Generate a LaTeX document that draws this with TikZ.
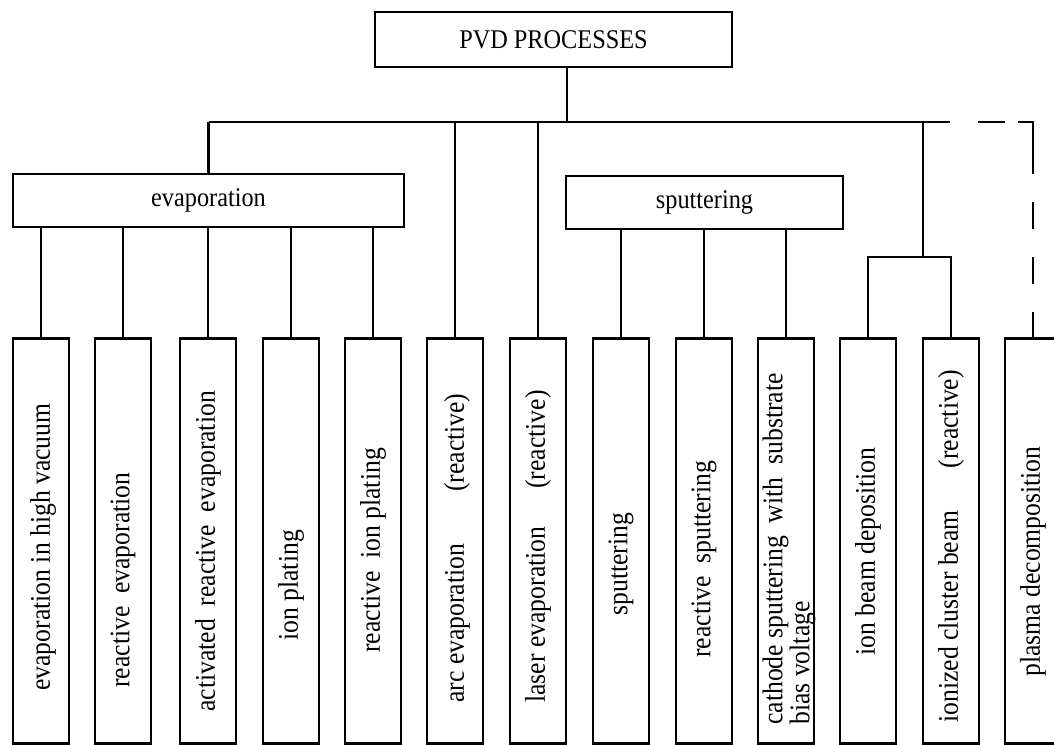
\documentclass[tikz,border=0pt]{standalone}
\usepackage{fontspec}
\setmainfont{Liberation Serif}[FakeStretch=0.9]
\usetikzlibrary{calc}
\begin{document}
\begin{tikzpicture}[x=1pt,y=-1pt,
  box/.style={draw, rectangle, line width=2.8pt, inner sep=0pt, font=\fontsize{27}{30}\selectfont},
  leaf/.style={box, minimum width=56pt, minimum height=405pt, anchor=north},
  conn/.style={line width=2.4pt},
  lbl/.style={rotate=90, anchor=west, inner sep=0pt, font=\fontsize{28.5}{30}\selectfont},
  dsh/.style={conn, dash pattern=on 0pt off 28pt on 27pt off 13pt on 67pt off 28pt on 27pt off 28pt on 27pt off 28pt on 30pt}]
\useasboundingbox (0,0) rectangle (1054,744);
\clip (0,0) rectangle (1054,744);
% top
\node[box, minimum width=357pt, minimum height=55pt] (pvd) at (553.5,39.5) {PVD PROCESSES};
\node[box, minimum width=391pt, minimum height=53pt] (evap) at (208.5,200.5) {evaporation};
\node[box, minimum width=277pt, minimum height=53pt] (sput) at (704.5,202.5) {sputtering};
% leaves
\foreach \i/\x in {1/41,2/123,3/208,4/291,5/373,6/455,7/538,8/621,9/704,10/786,11/868,12/951,13/1033}
  \node[leaf] (l\i) at (\x,337) {};
% labels
\node[lbl] (t1) at ($(l1.south)+(2,-54)$) {evaporation in high vacuum};
\node[lbl] (t2) at ($(l2.south)+(0,-57)$) {reactive\ \ evaporation};
\node[lbl] (t3) at ($(l3.south)+(0,-33)$) {activated\ \ reactive\ \ evaporation};
\node[lbl] (t4) at ($(l4.south)+(0,-104)$) {ion plating};
\node[lbl] (t5) at ($(l5.south)+(0,-92)$) {reactive\ \ ion plating};
\node[lbl] (t6) at ($(l6.south)+(2,-42)$) {arc evaporation\hspace{52pt}(reactive)};
\node[lbl] (t7) at ($(l7.south)+(0,-42)$) {laser evaporation\hspace{38pt}(reactive)};
\node[lbl] (t8) at ($(l8.south)+(0,-129)$) {sputtering};
\node[lbl] (t9) at ($(l9.south)+(0,-87)$) {reactive\ \ sputtering};
\node[lbl, align=left, font=\fontsize{28.5}{18}\selectfont] (t10) at ($(l10.south)+(3,-20)$) {cathode sputtering\ \ with\ \ substrate\\bias voltage};
\node[lbl] (t11) at ($(l11.south)+(0,-89)$) {ion beam deposition};
\node[lbl] (t12) at ($(l12.south)+(0,-22)$) {ionized cluster beam\hspace{42pt}(reactive)};
\node[lbl] (t13) at ($(l13.south)+(0,-68)$) {plasma decomposition};
% bus
\coordinate (b0) at (567,122);
\coordinate (busR) at (950,122);
\coordinate (brk) at (923,257);
\draw[conn] (pvd.south -| b0) -- (b0);
\draw[conn] (evap.north |- b0) -- (busR);
\draw[conn] (evap.north) -- (evap.north |- b0);
\draw[conn] (l6.north) -- (l6.north |- b0);
\draw[conn] (l7.north) -- (l7.north |- b0);
\draw[conn] (brk |- b0) -- (brk);
\draw[conn] (l11.north) -- (l11.north |- brk) -- (l12.north |- brk) -- (l12.north);
\draw[dsh] (busR) -| (l13.north);
% group children
\foreach \i in {1,2,3,4,5}
  \draw[conn] (l\i.north) -- (l\i.north |- evap.south);
\foreach \i in {8,9,10}
  \draw[conn] (l\i.north) -- (l\i.north |- sput.south);
\end{tikzpicture}
\end{document}
